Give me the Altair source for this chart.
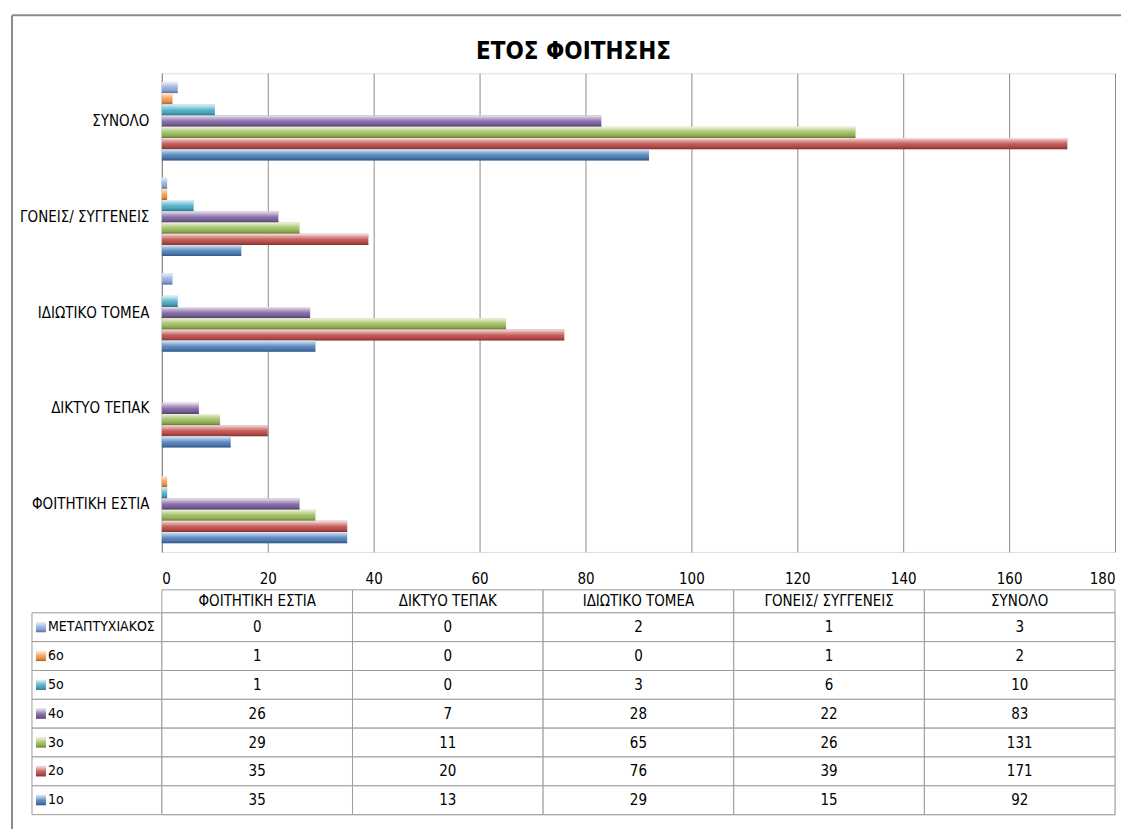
import altair as alt
import pandas as pd

# Categories (table column order) and series (top-to-bottom inside each group)
categories = ["ΦΟΙΤΗΤΙΚΗ ΕΣΤΙΑ", "ΔΙΚΤΥΟ ΤΕΠΑΚ", "ΙΔΙΩΤΙΚΟ ΤΟΜΕΑ", "ΓΟΝΕΙΣ/ ΣΥΓΓΕΝΕΙΣ", "ΣΥΝΟΛΟ"]
series = ["ΜΕΤΑΠΤΥΧΙΑΚΟΣ", "6ο", "5ο", "4ο", "3ο", "2ο", "1ο"]

met = [0, 0, 2, 1, 3]
y6 = [1, 0, 0, 1, 2]
y5 = [1, 0, 3, 6, 10]
y4 = [26, 7, 28, 22, 83]
y3 = [29, 11, 65, 26, 131]
y2 = [35, 20, 76, 39, 171]
y1 = [35, 13, 29, 15, 92]

colors = ["#8FAADC", "#F79646", "#4BACC6", "#8064A2", "#9BBB59", "#C0504D", "#4F81BD"]
x_ticks = [0, 20, 40, 60, 80, 100, 120, 140, 160, 180]
title_text = "ΕΤΟΣ ΦΟΙΤΗΣΗΣ"

FONT = "DejaVu Sans Condensed, Liberation Sans Narrow, Liberation Sans, sans-serif"
GRID = "#8c8c8c"
CELL = "#9c9c9c"
FS = 15

values_by_series = dict(zip(series, [met, y6, y5, y4, y3, y2, y1]))
rows = []
for s in series:
    for c, v in zip(categories, values_by_series[s]):
        rows.append({"category": c, "series": s, "value": v})
df = pd.DataFrame(rows)

color_scale = alt.Scale(domain=series, range=colors)

# Glossy bevel overlay drawn on top of every bar
shine = alt.Gradient(
    gradient="linear",
    x1=0, y1=0, x2=0, y2=1,
    stops=[
        alt.GradientStop(color="rgba(255,255,255,0.85)", offset=0),
        alt.GradientStop(color="rgba(255,255,255,0.45)", offset=0.25),
        alt.GradientStop(color="rgba(255,255,255,0.05)", offset=0.55),
        alt.GradientStop(color="rgba(0,0,0,0.10)", offset=0.8),
        alt.GradientStop(color="rgba(0,0,0,0.35)", offset=1),
    ],
)

base = alt.Chart(df).encode(
    x=alt.X(
        "value:Q",
        scale=alt.Scale(domain=[0, 180], nice=False, zero=True),
        axis=alt.Axis(
            values=x_ticks, title=None, grid=True, gridColor=GRID, gridOpacity=1,
            ticks=False, domain=False, labelFont=FONT, labelFontSize=FS,
            labelColor="black", labelPadding=20,
        ),
    ),
    y=alt.Y(
        "category:N",
        sort=list(reversed(categories)),
        scale=alt.Scale(paddingInner=0.18, paddingOuter=0.09),
        axis=alt.Axis(
            title=None, ticks=False, domainColor=GRID, labelFont=FONT,
            labelFontSize=FS, labelColor="black", labelPadding=13, labelLimit=300,
        ),
    ),
    yOffset=alt.YOffset("series:N", sort=series,
                        scale=alt.Scale(domain=series, paddingInner=0, paddingOuter=0)),
)

bars = base.mark_bar().encode(color=alt.Color("series:N", scale=color_scale, legend=None))
gloss = base.mark_bar(fill=shine)

one = pd.DataFrame({"title": [title_text]})
frame_v = alt.Chart(one).mark_rule(color=GRID, strokeWidth=2).encode(
    x=alt.value(-150), y=alt.value(-58), y2=alt.value(757))
frame_h = alt.Chart(one).mark_rule(color=GRID, strokeWidth=2).encode(
    x=alt.value(-150), x2=alt.value(960), y=alt.value(-58))
title = alt.Chart(one).mark_text(
    font=FONT, fontSize=24, fontWeight="bold", color="black",
    align="center", baseline="alphabetic",
).encode(x=alt.value(412), y=alt.value(-14), text="title:N")

main = alt.layer(frame_v, frame_h, title, bars, gloss).properties(width=954, height=479)

# Data table beneath the bars
cat_x = alt.X("category:N", sort=categories,
              scale=alt.Scale(domain=categories, paddingInner=0, paddingOuter=0), axis=None)
ser_y = alt.Y("series:N", sort=series,
              scale=alt.Scale(domain=series, paddingInner=0, paddingOuter=0), axis=None)

cells = alt.Chart(df).mark_rect(fill="white", stroke=CELL, strokeWidth=1).encode(x=cat_x, y=ser_y)
cell_text = alt.Chart(df).mark_text(font=FONT, fontSize=FS, color="black").encode(
    x=cat_x, y=ser_y, text="value:Q")

hdf = pd.DataFrame({"category": categories})
head_cells = alt.Chart(hdf).mark_rect(fill="white", stroke=CELL, strokeWidth=1).encode(
    x=cat_x, y=alt.value(-23), y2=alt.value(0))
head_text = alt.Chart(hdf).mark_text(font=FONT, fontSize=FS, color="black", baseline="middle").encode(
    x=cat_x, y=alt.value(-11.5), text="category:N")

# Legend keys in the first column of the table
sdf = pd.DataFrame({"series": series})
key_cells = alt.Chart(sdf).mark_rect(fill="white", stroke=CELL, strokeWidth=1).encode(
    x=alt.value(-130), x2=alt.value(0), y=ser_y)
key_marks = alt.Chart(sdf).mark_square(size=100, opacity=1).encode(
    x=alt.value(-121), y=ser_y,
    color=alt.Color("series:N", scale=color_scale, legend=None))
key_gloss = alt.Chart(sdf).mark_square(size=100, opacity=1, fill=shine).encode(
    x=alt.value(-121), y=ser_y)
key_text = alt.Chart(sdf).mark_text(font=FONT, fontSize=14, color="black", align="left").encode(
    x=alt.value(-114), y=ser_y, text="series:N")

table = alt.layer(head_cells, head_text, key_cells, key_marks, key_gloss, key_text,
                  cells, cell_text).properties(width=954, height=202)

chart = alt.vconcat(main, table, spacing=61, bounds="flush").properties(
    padding={"left": 10, "top": 13, "right": 0, "bottom": 0}
).configure_view(stroke=None).configure(background="white")

chart.save("out.html", embed_options={"renderer": "svg", "actions": False})
